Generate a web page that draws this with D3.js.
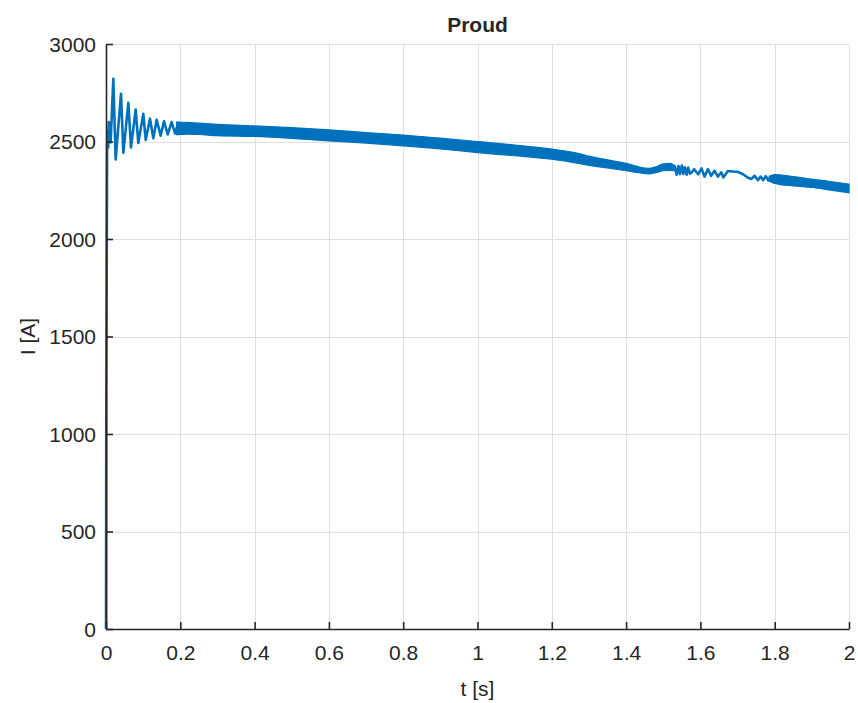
<!DOCTYPE html>
<html>
<head>
<meta charset="utf-8">
<script src="https://cdn.jsdelivr.net/npm/d3@7/dist/d3.min.js"></script>
<style>
  html, body { margin: 0; padding: 0; background: #fff; }
  svg { display: block; }
  text { font-family: "Liberation Sans", Arial, Helvetica, sans-serif; fill: #262626; }
</style>
</head>
<body>
<svg id="chart" width="858" height="703"></svg>
<script>
// ---- data ----
const chartTitle = "Proud";
const xLabel = "t [s]";
const yLabel = "I [A]";

const xTicks = [0, 0.2, 0.4, 0.6, 0.8, 1, 1.2, 1.4, 1.6, 1.8, 2];
const xTickLabels = ["0", "0.2", "0.4", "0.6", "0.8", "1", "1.2", "1.4", "1.6", "1.8", "2"];
const yTicks = [0, 500, 1000, 1500, 2000, 2500, 3000];
const yTickLabels = ["0", "500", "1000", "1500", "2000", "2500", "3000"];

// start-up transient (distinct oscillations)
const tEarly = [0, 0.0008, 0.003, 0.0045, 0.006, 0.0075, 0.010, 0.0125, 0.0197, 0.026, 0.0404, 0.0467,
  0.0601, 0.0673, 0.0799, 0.087, 0.1005, 0.1068, 0.1184, 0.1274, 0.1364, 0.1471, 0.1561, 0.166,
  0.1768, 0.1857, 0.1947, 0.2055, 0.2171, 0.225];
const iEarly = [0, 1200, 2480, 2555, 2470, 2600, 2520, 2495, 2822, 2408, 2745, 2442,
  2698, 2470, 2664, 2492, 2642, 2508, 2617, 2517, 2611, 2530, 2604, 2536,
  2600, 2541, 2596, 2545, 2590, 2548];

// dense ripple band (upper / lower envelope)
const tBand1 = [0.19, 0.22, 0.25, 0.30, 0.40, 0.50, 0.60, 0.70, 0.80, 0.90, 1.00, 1.10, 1.20, 1.276,
  1.30, 1.35, 1.40, 1.43, 1.46, 1.48, 1.50, 1.52, 1.53];
const hiBand1 = [2600, 2598, 2594, 2588, 2580, 2571, 2560, 2546, 2533, 2517, 2500, 2482, 2461, 2437,
  2425, 2406, 2388, 2372, 2362, 2370, 2386, 2388, 2376];
const loBand1 = [2535, 2538, 2536, 2530, 2526, 2516, 2503, 2492, 2478, 2462, 2443, 2427, 2409, 2386,
  2378, 2364, 2350, 2341, 2334, 2340, 2350, 2352, 2350];

// resolved oscillations around t = 1.5 .. 1.8
const tMid = [1.528, 1.531, 1.536, 1.541, 1.545, 1.550, 1.554, 1.558, 1.563, 1.567, 1.572, 1.576,
  1.583, 1.594, 1.603, 1.611, 1.620, 1.629, 1.638, 1.647, 1.656, 1.662, 1.674, 1.688, 1.701,
  1.715, 1.728, 1.737, 1.746, 1.755, 1.762, 1.769, 1.776, 1.783, 1.790, 1.798];
const iMid = [2365, 2374, 2330, 2374, 2333, 2377, 2333, 2368, 2330, 2366, 2335, 2340,
  2358, 2332, 2362, 2320, 2358, 2324, 2350, 2320, 2342, 2316, 2349, 2346, 2344,
  2332, 2314, 2308, 2324, 2302, 2320, 2302, 2322, 2300, 2318, 2306];

// dense ripple band at the end
const tBand2 = [1.785, 1.80, 1.85, 1.90, 1.95, 2.00];
const hiBand2 = [2322, 2330, 2320, 2307, 2295, 2281];
const loBand2 = [2298, 2285, 2272, 2264, 2251, 2237];

// ---- layout ----
const svg = d3.select("#chart");
const L = 106, R = 849, T = 44, B = 629;
const x = d3.scaleLinear().domain([0, 2]).range([L, R]);
const y = d3.scaleLinear().domain([0, 3000]).range([B, T]);
const blue = "#0072BD";
const axisCol = "#262626";
const gridCol = "#dfdfdf";

// grid
const g = svg.append("g");
g.selectAll("line.gx").data(xTicks).enter().append("line")
  .attr("x1", d => Math.round(x(d)) + 0.5).attr("x2", d => Math.round(x(d)) + 0.5)
  .attr("y1", T).attr("y2", B).attr("stroke", gridCol).attr("stroke-width", 1);
g.selectAll("line.gy").data(yTicks).enter().append("line")
  .attr("y1", d => Math.round(y(d)) + 0.5).attr("y2", d => Math.round(y(d)) + 0.5)
  .attr("x1", L).attr("x2", R).attr("stroke", gridCol).attr("stroke-width", 1);

// data
const band1 = tBand1.map((t, i) => ({t, hi: hiBand1[i], lo: loBand1[i]}));
const band2 = tBand2.map((t, i) => ({t, hi: hiBand2[i], lo: loBand2[i]}));
const area = d3.area().x(d => x(d.t)).y0(d => y(d.lo)).y1(d => y(d.hi)).curve(d3.curveMonotoneX);
[band1, band2].forEach(b => {
  svg.append("path").datum(b).attr("d", area)
    .attr("fill", blue).attr("stroke", blue).attr("stroke-width", 1.2);
});

const line = d3.line().x(d => x(d[0])).y(d => y(d[1]));
svg.append("path").datum(tEarly.map((t, i) => [t, iEarly[i]])).attr("d", line)
  .attr("fill", "none").attr("stroke", blue).attr("stroke-width", 2.6).attr("stroke-linejoin", "round");
svg.append("path").datum(tMid.map((t, i) => [t, iMid[i]])).attr("d", line)
  .attr("fill", "none").attr("stroke", blue).attr("stroke-width", 2.6).attr("stroke-linejoin", "round");

// axes (drawn on top of data, ticks inward)
const xAxis = d3.axisBottom(x).tickValues(xTicks).tickFormat((d, i) => xTickLabels[i])
  .tickSizeInner(-7).tickSizeOuter(0).tickPadding(16);
const yAxis = d3.axisLeft(y).tickValues(yTicks).tickFormat((d, i) => yTickLabels[i])
  .tickSizeInner(-7).tickSizeOuter(0).tickPadding(10);

const gx = svg.append("g").attr("transform", `translate(0,${B})`).call(xAxis);
const gy = svg.append("g").attr("transform", `translate(${L},0)`).call(yAxis);
[gx, gy].forEach(a => {
  a.select(".domain").attr("stroke", axisCol).attr("stroke-width", 1.6);
  a.selectAll(".tick line").attr("stroke", axisCol).attr("stroke-width", 1.6);
  a.selectAll(".tick text").attr("fill", axisCol).style("font-size", "21px")
    .style("font-family", "'Liberation Sans', Arial, sans-serif");
});
gy.selectAll(".tick text").attr("dy", "0.35em");

// labels
svg.append("text").attr("x", (L + R) / 2).attr("y", 32).attr("text-anchor", "middle")
  .style("font-size", "21px").style("font-weight", "bold").text(chartTitle);
svg.append("text").attr("x", (L + R) / 2).attr("y", 696).attr("text-anchor", "middle")
  .style("font-size", "21px").text(xLabel);
svg.append("text").attr("transform", `translate(35,${(T + B) / 2}) rotate(-90)`)
  .attr("text-anchor", "middle").style("font-size", "21px").text(yLabel);
</script>
</body>
</html>
